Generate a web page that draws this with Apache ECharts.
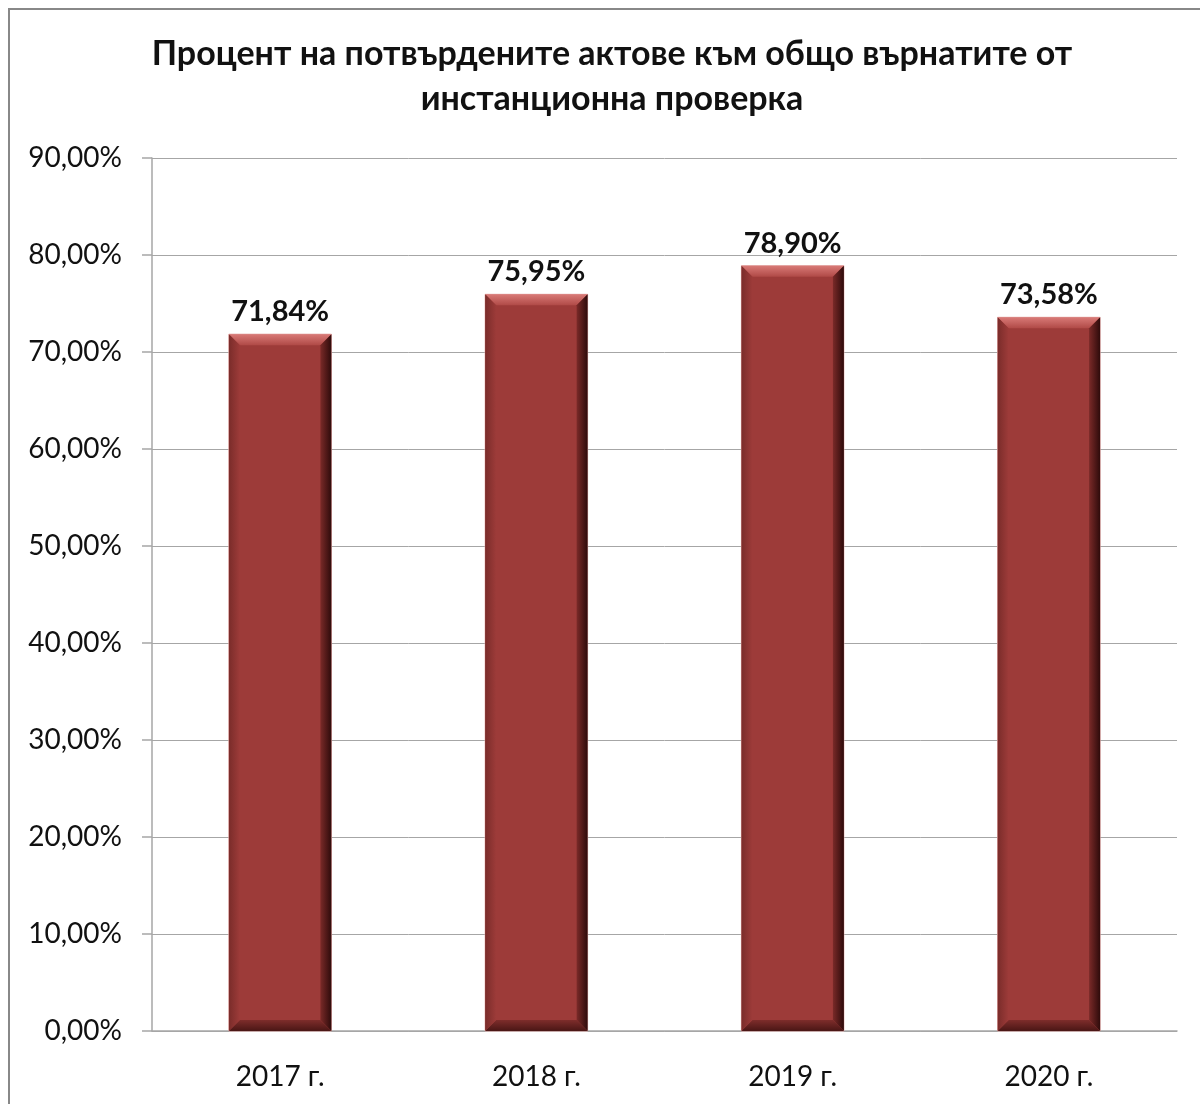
<!DOCTYPE html>
<html>
<head>
<meta charset="utf-8">
<script src="https://cdn.jsdelivr.net/npm/echarts@6/dist/echarts.min.js"></script>
<style>
  html, body { margin: 0; padding: 0; background: #fff; }
  #chart { width: 1200px; height: 1104px; }
</style>
</head>
<body>
<div id="chart"></div>
<script>
var years = ['2017 г.', '2018 г.', '2019 г.', '2020 г.'];
var percents = [71.84, 75.95, 78.90, 73.58];
var yTicks = [0, 10, 20, 30, 40, 50, 60, 70, 80, 90];

var fontName = 'Lato, "Noto Sans", sans-serif';

function fmt(v) {
  return v.toFixed(2).replace('.', ',') + '%';
}

// bar with a bevelled look, like the office chart
function renderBevelBar(params, api) {
  var idx = api.value(0);
  var val = api.value(1);
  var top = api.coord([idx, val]);
  var base = api.coord([idx, 0]);
  var w = api.size([1, 0])[0] * 0.4;
  var x0 = top[0] - w / 2, x1 = top[0] + w / 2;
  var y0 = top[1], y1 = base[1];
  var d = 11;
  return {
    type: 'group',
    children: [
      { type: 'rect', shape: { x: x0, y: y0, width: w, height: y1 - y0 },
        style: { fill: '#9d3b39', stroke: '#e8b0ae', lineWidth: 1 } },
      { type: 'polygon', shape: { points: [[x0, y0], [x1, y0], [x1 - d, y0 + d], [x0 + d, y0 + d]] },
        style: { fill: new echarts.graphic.LinearGradient(0, 0, 0, 1, [
          { offset: 0, color: '#d97a77' }, { offset: 1, color: '#b04a47' }]) } },
      { type: 'polygon', shape: { points: [[x1, y0], [x1, y1], [x1 - d, y1 - d], [x1 - d, y0 + d]] },
        style: { fill: new echarts.graphic.LinearGradient(0, 0, 1, 0, [
          { offset: 0, color: '#7a2a28' }, { offset: 1, color: '#2e0b0b' }]) } },
      { type: 'polygon', shape: { points: [[x0, y1], [x1, y1], [x1 - d, y1 - d], [x0 + d, y1 - d]] },
        style: { fill: new echarts.graphic.LinearGradient(0, 0, 0, 1, [
          { offset: 0, color: '#7e2d2b' }, { offset: 1, color: '#4a1615' }]) } },
      { type: 'polygon', shape: { points: [[x0, y0], [x0 + d, y0 + d], [x0 + d, y1 - d], [x0, y1]] },
        style: { fill: new echarts.graphic.LinearGradient(0, 0, 1, 0, [
          { offset: 0, color: '#7a2c2a' }, { offset: 1, color: '#9d3b39' }]) } },
      { type: 'text', x: top[0], y: y0 - 8,
        style: { text: fmt(val), fill: '#111', font: 'bold 29px ' + fontName,
          align: 'center', verticalAlign: 'bottom' } }
    ]
  };
}

var chart = echarts.init(document.getElementById('chart'));
chart.setOption({
  animation: false,
  backgroundColor: '#fff',
  graphic: [{
    type: 'rect', shape: { x: 9, y: 9, width: 1300, height: 1200 },
    style: { fill: 'none', stroke: '#888', lineWidth: 2 }, silent: true
  }],
  title: {
    text: 'Процент на потвърдените актове към общо върнатите от\nинстанционна проверка',
    left: 607, top: 27, textAlign: 'center',
    textStyle: { fontFamily: fontName, fontWeight: 'bold', fontSize: 34, lineHeight: 45, color: '#111' }
  },
  grid: { left: 152, right: 23, top: 158, bottom: 73 },
  xAxis: {
    type: 'category',
    data: years,
    axisLine: { lineStyle: { color: '#a6a6a6', width: 1.5 } },
    axisTick: { length: 10, lineStyle: { color: '#a6a6a6', width: 1.5 } },
    axisLabel: { fontFamily: fontName, fontSize: 28, color: '#111', margin: 32 }
  },
  yAxis: {
    type: 'value',
    min: yTicks[0], max: yTicks[yTicks.length - 1], interval: 10,
    axisLine: { show: true, lineStyle: { color: '#a6a6a6', width: 1.5 } },
    axisTick: { show: true, length: 10, lineStyle: { color: '#a6a6a6', width: 1.5 } },
    splitLine: { lineStyle: { color: '#a6a6a6', width: 1 } },
    axisLabel: { fontFamily: fontName, fontSize: 28, color: '#111', margin: 30, formatter: fmt }
  },
  series: [{
    type: 'custom',
    renderItem: renderBevelBar,
    data: percents.map(function (v, i) { return [i, v]; })
  }]
});
</script>
</body>
</html>
